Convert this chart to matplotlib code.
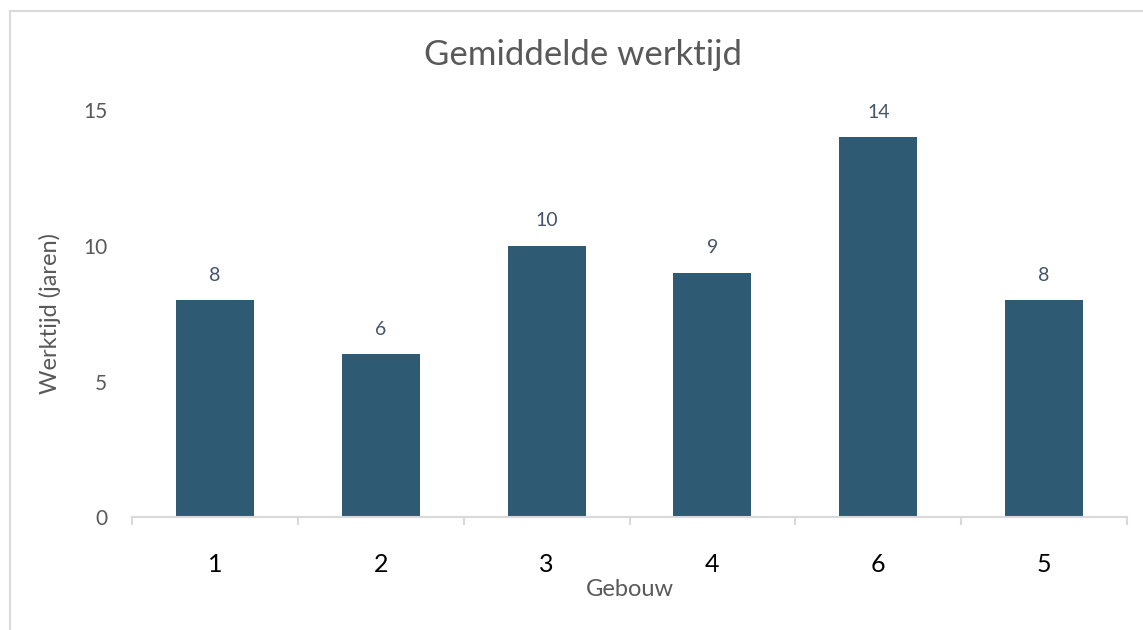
import matplotlib.pyplot as plt
from matplotlib.patches import Rectangle

# Data
gebouw = ['1', '2', '3', '4', '6', '5']
werktijd = [8, 6, 10, 9, 14, 8]

plt.rcParams['font.family'] = ['Lato', 'DejaVu Sans']

fig = plt.figure(figsize=(11.43, 6.3), dpi=100)
ax = fig.add_axes([0.1155, 0.179, 0.8705, 0.646])

x = range(len(gebouw))
bars = ax.bar(x, werktijd, width=0.47, color='#2E5A73', zorder=2)

# data labels
for b, v in zip(bars, werktijd):
    ax.annotate(str(v), (b.get_x() + b.get_width() / 2, v), xytext=(0, 12),
                textcoords='offset points', ha='center', va='bottom',
                fontsize=14, color='#44546A')

ax.set_xlim(-0.5, len(gebouw) - 0.5)
ax.set_ylim(0, 15)
ax.set_yticks([0, 5, 10, 15])
ax.set_xticks(x)
ax.set_xticklabels(gebouw, fontsize=18, color='black')
ax.tick_params(axis='x', length=0, pad=26)
ax.tick_params(axis='y', length=0, pad=18, labelsize=15, labelcolor='#595959')

# category boundary ticks like Excel
for b in [i - 0.5 for i in range(len(gebouw) + 1)]:
    ax.plot([b, b], [0, -0.25], color='#D9D9D9', lw=1.5, clip_on=False, zorder=1)

for s in ['top', 'right', 'left']:
    ax.spines[s].set_visible(False)
ax.spines['bottom'].set_color('#D9D9D9')
ax.spines['bottom'].set_linewidth(1.5)

fig.text(0.51, 1 - 55 / 630, 'Gemiddelde werktijd', fontsize=25,
         color='#595959', ha='center', va='center')
ax.set_xlabel('Gebouw', fontsize=17, color='#595959', labelpad=2)
ax.set_ylabel('Werktijd (jaren)', fontsize=17, color='#595959', labelpad=16)

# chart border
fig.patches.append(Rectangle((10 / 1143, -0.1), 1.2, 1 - 11 / 630 + 0.1,
                             transform=fig.transFigure, fill=False,
                             edgecolor='#D9D9D9', lw=1.5))

fig.savefig('out.png', dpi=100)
